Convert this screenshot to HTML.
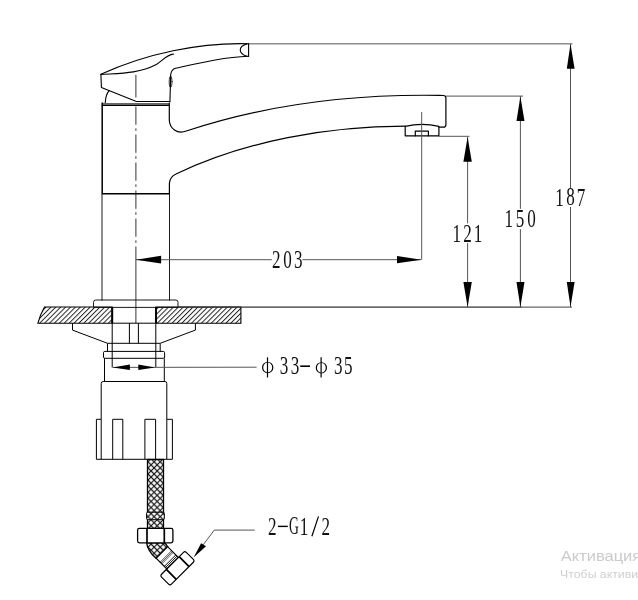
<!DOCTYPE html>
<html><head><meta charset="utf-8">
<style>
html,body{margin:0;padding:0;background:#fff;}
body{width:638px;height:600px;overflow:hidden;position:relative;font-family:"Liberation Sans",sans-serif;}
svg{position:absolute;left:0;top:0;will-change:transform;}
</style></head><body>
<svg width="638" height="600" viewBox="0 0 638 600">
<defs>
<pattern id="hatch" patternUnits="userSpaceOnUse" width="3.465" height="10" patternTransform="translate(1.29,307) rotate(45)">
<line x1="0.5" y1="-1" x2="0.5" y2="11" stroke="#1a1a1a" stroke-width="0.95"/>
</pattern>
<pattern id="braid" patternUnits="userSpaceOnUse" width="4.31" height="4.31" patternTransform="translate(148,470.95) rotate(45)">
<rect width="4.31" height="4.31" fill="#fff"/>
<path d="M2.155,0 L2.155,4.31 M0,2.155 L4.31,2.155" stroke="#1a1a1a" stroke-width="1.15"/>
</pattern>
</defs>
<!-- ========== HANDLE ========== -->
<g fill="none" stroke="#000" stroke-width="1.1" stroke-linecap="round" stroke-linejoin="round">
<path d="M100.9,74.3 C145.7,53.7 199.4,42.3 248.6,43.7"/>
<path d="M248.6,43.6 L248.6,56.3"/>
<path d="M247,43.9 C238,46.5 238,53.5 247,56.3"/>
<path d="M248.6,56.3 C223.1,57.1 200.1,62.8 175.5,68.3 Q171.5,69.3 170.7,74.5 L169.9,102"/>
<ellipse cx="170.6" cy="81.75" rx="1.4" ry="5.7" stroke-width="0.8"/>
<path d="M100.9,74.5 C119.4,73.2 139,73.6 155.8,64.8 C161.5,61.8 166.3,54.7 173.4,54.1"/>
<path d="M100.9,74.3 L101.4,87.5 L136.4,101.5 L169.8,101.5"/>
<path d="M105.2,103.2 Q105.6,94.5 109.2,90.6"/>
</g>
<!-- ========== BODY + SPOUT ========== -->
<rect x="102.1" y="103" width="67.2" height="2.3" fill="#666"/>
<g fill="none" stroke="#000" stroke-width="1.2" stroke-linecap="round" stroke-linejoin="round">
<path d="M102.2,103 L102.2,193.8 L169.4,193.8" stroke-width="1.5"/>
<path d="M102.2,105.5 L169.4,105.5" stroke-width="1.1"/>
<path d="M169.3,103 L169.3,120.2 C169.7,128.3 177,134.5 186.3,131 C267.8,103.9 353.9,94 439.6,95.4 L443.4,95.5 Q445.9,95.6 445.9,98 L445.9,124.7 Q445.9,127.2 443.3,127.2 L438.9,127.2"/>
<path d="M169.4,193.8 L169.4,183.3 C169.7,179.3 172.4,175.6 176,174 C246.1,140.6 327.6,126.4 405.2,126.2"/>
<path d="M405.2,126.4 Q422,122.4 438.9,126.4 L438.9,135.8 L405.2,135.8 Z"/>
<path d="M415.3,135.8 L415.3,131.1 L428.4,131.1 L428.4,135.8"/>
</g>
<g fill="none" stroke="#000" stroke-width="0.9" stroke-linecap="round" stroke-linejoin="round">
<path d="M102,194 L102,300.2"/>
<path d="M169.5,194 L169.5,300.2"/>
<path d="M93.5,307 L93.5,302.5 Q93.5,300 95.5,300 L176,300 Q178,300 178,302.5 L178,307 Z"/>
</g>
<!-- ========== COUNTER ========== -->
<g stroke="#000" stroke-width="1.1" fill="url(#hatch)">
<path d="M44.5,307 L112.2,307 L112.2,323.2 L37.9,323.2 Q40,315 44.5,307 Z"/>
<path d="M156,307 L240.9,307 L240.9,323.2 L156,323.2 Z"/>
</g>
<!-- ========== BELOW COUNTER ========== -->
<g fill="none" stroke="#000" stroke-width="1">
<path d="M112.2,307 L112.2,323.2 M156,307 L156,323.2" stroke-width="2"/>
<path d="M112.2,323.2 L112.2,367.4 M155.8,323.2 L155.8,367.4"/>
<path d="M129.4,323.2 L129.4,343.4 M138.4,323.2 L138.4,343.4 M112.2,323.2 L156,323.2"/>
<path d="M72.5,323.2 L72.5,330.1 L107.5,343.3 L160.2,343.3 L195.4,330.1 L195.4,323.2"/>
<path d="M107.5,343.4 L107.5,351.4 M160.2,343.4 L160.2,351.4"/>
<rect x="103.5" y="351.4" width="61.1" height="6.9" rx="1.3"/>
<path d="M104.5,358.3 L104.5,381.5 M164.3,358.3 L164.3,381.5"/>
<path d="M101.2,419.3 L101.2,383.5 Q101.2,381.5 103.2,381.5 L164.8,381.5 Q166.8,381.5 166.8,383.5 L166.8,419.3"/>
<path d="M96.4,459.3 L172.4,459.3"/>
<g stroke-linejoin="miter">
<path d="M96.4,459.3 L96.4,419.3 L101.2,419.3 L101.2,459.3"/>
<path d="M112.7,459.3 L112.7,419.3 L122.8,419.3 L122.8,459.3"/>
<path d="M144.9,459.3 L144.9,419.3 L155.6,419.3 L155.6,459.3"/>
<path d="M166.8,459.3 L166.8,419.3 L172.4,419.3 L172.4,459.3"/>
</g>
</g>
<!-- ========== HOSE ========== -->
<g stroke="#000" stroke-width="1.3">
<rect x="147.5" y="459.5" width="16" height="69" fill="url(#braid)"/>
<rect x="146.6" y="512.2" width="17.7" height="7.5" rx="1.2" fill="url(#braid)" stroke-width="1"/>
<path d="M146.6,542.8 C147.5,549 151,554 156.2,558.4 L167.8,546.8 C166.8,545.2 165.8,544 164.5,542.8 Z" fill="url(#braid)"/>
<rect x="137.6" y="528.4" width="35.3" height="14.5" rx="1.8" fill="#fff"/>
<path d="M147,528.4 L147,543 M164.3,528.4 L164.3,543" fill="none" stroke-width="1.7"/>
</g>
<g transform="translate(177.45,568.25) rotate(45)" stroke="#000" stroke-width="1.2">
<rect x="-22.1" y="-8.3" width="15.1" height="16.3" fill="#fff"/>
<path d="M-16.6,-8.2 L-16.6,8 M-15.4,-8.2 L-15.4,8 M-14.2,-8.2 L-14.2,8" fill="none" stroke-width="0.6"/>
<path d="M-10.6,-8.2 L-10.6,8 M-8.9,-8.2 L-8.9,8" fill="none" stroke-width="0.9"/>
<rect x="-7" y="-17.5" width="14" height="35" rx="2" fill="#fff"/>
<path d="M-7,-9.4 L7,-9.4 M-7,8.7 L7,8.7" fill="none" stroke-width="1.8"/>
</g>
<!-- ========== CENTRE LINE ========== -->
<g stroke="#000" stroke-width="0.8" fill="none">
<path d="M135.9,74.9 L135.9,97.5"/>
<path d="M135.9,106.5 L135.9,246.5" stroke-dasharray="18.3 3.5 2.5 3.7"/>
<path d="M135.9,246.5 L135.9,323.2"/>
</g>
<!-- ========== DIMENSIONS ========== -->
<g stroke="#555" stroke-width="1" fill="none">
<path d="M249,43.85 L572.5,43.85"/>
<path d="M446,96.1 L523,96.1"/>
<path d="M439,136.3 L469.5,136.3"/>
<path d="M178,307.1 L522,307.1" stroke="#333" stroke-width="1.3"/>
<path d="M522,307.1 L572,307.1" stroke="#666" stroke-width="1.1"/>
<path d="M570.5,44 L570.5,188 M570.5,207 L570.5,307"/>
<path d="M520.4,96 L520.4,208.8 M520.4,229.1 L520.4,307"/>
<path d="M467.6,137 L467.6,223.4 M467.6,243.2 L467.6,307"/>
<path d="M421.7,112 L421.7,259.7"/>
<path d="M136,259.7 L271.8,259.7 M302.4,259.7 L421,259.7"/>
<path d="M256.6,367.2 L112.6,367.4"/>
<path d="M254.7,530.1 L214.3,530.1 L200,549"/>
</g>
<g fill="#000" stroke="none">
<path d="M570.5,44 L566.8,68.8 L574.6,68.8 Z"/>
<path d="M570.5,307 L566.8,282 L574.6,282 Z"/>
<path d="M520.4,96.5 L516.5,121 L524.5,121 Z"/>
<path d="M520.4,307 L516.5,282 L524.5,282 Z"/>
<path d="M467.6,137 L463.4,161.8 L471.8,161.8 Z"/>
<path d="M467.6,307 L463.4,282 L471.8,282 Z"/>
<path d="M135.9,259.7 L161.1,255.8 L161.1,263.6 Z"/>
<path d="M421.5,259.7 L397,256.1 L397,263.3 Z"/>
<path d="M112.6,367.4 L129.9,364.6 L129.9,370 Z"/>
<path d="M155,367.4 L138.3,364.6 L138.3,370 Z"/>
<path d="M193.6,557.5 L201.1,543.3 L206,546.3 Z"/>
</g>
<!-- ========== TEXT ========== -->
<g font-family="Liberation Serif" font-size="25.5" fill="#111">
<text transform="translate(452.39,241.80) scale(0.670,1)">1</text>
<text transform="translate(463.27,241.80) scale(0.670,1)">2</text>
<text transform="translate(473.69,241.80) scale(0.670,1)">1</text>
<text transform="translate(504.59,227.20) scale(0.670,1)">1</text>
<text transform="translate(515.87,226.94) scale(0.670,1)">5</text>
<text transform="translate(527.23,226.94) scale(0.670,1)">0</text>
<text transform="translate(555.24,205.50) scale(0.670,1)">1</text>
<text transform="translate(566.23,205.25) scale(0.670,1)">8</text>
<text transform="translate(576.76,205.50) scale(0.670,1)">7</text>
<text transform="translate(272.07,268.10) scale(0.670,1)">2</text>
<text transform="translate(283.23,267.85) scale(0.670,1)">0</text>
<text transform="translate(293.90,267.85) scale(0.670,1)">3</text>
<text transform="translate(279.85,373.94) scale(0.670,1)">3</text>
<text transform="translate(290.80,373.94) scale(0.670,1)">3</text>
<text transform="translate(334.00,373.94) scale(0.670,1)">3</text>
<text transform="translate(343.92,373.94) scale(0.670,1)">5</text>
<text transform="translate(268.02,534.70) scale(0.670,1)">2</text>
<text transform="translate(289.1,534.45) scale(0.535,1)">G</text>
<text transform="translate(299.74,534.70) scale(0.670,1)">1</text>
<text transform="translate(321.62,534.70) scale(0.670,1)">2</text>
</g>
<g fill="none" stroke="#000">
<path fill="#000" fill-rule="evenodd" stroke="none" d="M262.0,367.5 a5.7,5.7 0 1,0 11.4,0 a5.7,5.7 0 1,0 -11.4,0 Z M263.25,367.5 a4.45,4.95 0 1,0 8.9,0 a4.45,4.95 0 1,0 -8.9,0 Z"/>
<path d="M267.5,357.3 L267.5,377.5" stroke-width="1.2"/>
<path fill="#000" fill-rule="evenodd" stroke="none" d="M315.70000000000005,367.8 a5.65,5.65 0 1,0 11.3,0 a5.65,5.65 0 1,0 -11.3,0 Z M316.95000000000005,367.8 a4.4,4.9 0 1,0 8.8,0 a4.4,4.9 0 1,0 -8.8,0 Z"/>
<path d="M321.1,357.2 L321.1,377.6" stroke-width="1.2"/>
<path d="M300.2,366.2 L310,366.2" stroke-width="1.6"/>
<path d="M277.9,526.4 L287.8,526.4" stroke-width="1.4"/>
<path d="M318.5,516.4 L311.9,536.2" stroke-width="1.2"/>
</g>
<g font-family="Liberation Sans">
<text transform="translate(560.8,560.6) scale(1.1,1)" font-size="15" fill="#cbcbcb">Активация</text>
<text transform="translate(560.1,577.8) scale(1.06,1)" font-size="11.6" fill="#d0d0d0">Чтобы активи</text>
</g>
</svg>
</body></html>
